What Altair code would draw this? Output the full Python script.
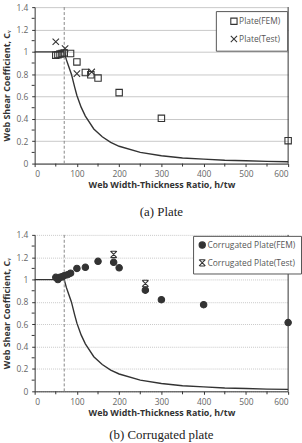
import altair as alt
import pandas as pd

# ---- data ----
curve_x = [0, 70, 75, 80, 87, 95, 100, 110, 120, 140, 160, 180, 200, 250, 300, 350, 400, 450, 500, 550, 600]
curve_y = [1.0, 1.0, 0.93, 0.875, 0.80, 0.68, 0.61, 0.505, 0.425, 0.31, 0.24, 0.19, 0.155, 0.10, 0.07, 0.05, 0.04, 0.03, 0.025, 0.02, 0.017]

plate_fem_x = [50, 55, 60, 65, 70, 85, 100, 120, 133, 150, 200, 300, 600]
plate_fem_y = [0.97, 0.975, 0.98, 0.985, 0.99, 0.985, 0.91, 0.815, 0.795, 0.765, 0.635, 0.405, 0.205]
plate_test_x = [50, 72, 100, 135]
plate_test_y = [1.09, 1.03, 0.805, 0.82]

corr_fem_x = [50, 55, 60, 65, 70, 78, 85, 100, 120, 150, 187, 200, 262, 300, 400, 600]
corr_fem_y = [1.02, 1.0, 1.02, 1.025, 1.035, 1.044, 1.057, 1.10, 1.11, 1.163, 1.154, 1.105, 0.905, 0.82, 0.775, 0.615]
corr_test_x = [187, 262]
corr_test_y = [1.225, 0.965]

limit_x = [70]
edge_x = [600]

x_major = [0, 100, 200, 300, 400, 500, 600]
x_minor = [50, 150, 250, 350, 450, 550]
y_major = [0, 0.2, 0.4, 0.6, 0.8, 1.0, 1.2, 1.4]
y_minor = [0.1, 0.3, 0.5, 0.7, 0.9, 1.1, 1.3]

labels_top = ["Plate(FEM)", "Plate(Test)"]
labels_bot = ["Corrugated Plate(FEM)", "Corrugated Plate(Test)"]

curve_df = pd.DataFrame({"x": curve_x, "y": curve_y})
top_df = pd.concat([
    pd.DataFrame({"x": plate_fem_x, "y": plate_fem_y, "s": labels_top[0]}),
    pd.DataFrame({"x": plate_test_x, "y": plate_test_y, "s": labels_top[1]}),
])
bot_df = pd.concat([
    pd.DataFrame({"x": corr_fem_x, "y": corr_fem_y, "s": labels_bot[0]}),
    pd.DataFrame({"x": corr_test_x, "y": corr_test_y, "s": labels_bot[1]}),
])
limit_df = pd.DataFrame({"x": limit_x})
edge_df = pd.DataFrame({"x": edge_x})
xminor_df = pd.DataFrame({"x": x_minor})
yminor_df = pd.DataFrame({"y": y_minor})

FONT = "Open Sans"
INK = "#333333"
W, H = 256, 158

X_PATH = "M-1,-1L1,1M1,-1L-1,1"
XBAR_PATH = "M-1,-1L1,1M1,-1L-1,1M-0.8,-1L0.8,-1M-0.8,1L0.8,1"


def panel(df, labels, shapes, fills, caption, cap_offset, dashed, legend_x, legend_y, legend_pad, sym_off):
    xs = alt.Scale(domain=[0, 600], nice=False)
    ys = alt.Scale(domain=[0, 1.4], nice=False)
    x_axis = alt.Axis(
        values=x_major, labelOverlap=False,
        grid=False, tickSize=3, tickColor=INK, domainColor=INK,
        labelColor="#666666", labelFont=FONT, labelFontSize=8.5, labelPadding=3,
        title="Web Width-Thickness  Ratio, h/tw", titleFont=FONT, titleFontSize=9,
        titleFontWeight="bold", titleColor=INK, titlePadding=3,
    )
    y_axis = alt.Axis(
        values=y_major, format="~g", labelOverlap=False,
        grid=True, gridColor="#c8c8c8", gridWidth=1,
        gridDash=[1, 1] if dashed else [],
        tickSize=3, tickColor=INK, domainColor=INK,
        labelColor="#666666", labelFont=FONT, labelFontSize=8.5, labelPadding=4,
        title="Web Shear Coefficient, C\u1d65", titleFont=FONT, titleFontSize=9,
        titleFontWeight="bold", titleColor=INK, titlePadding=4,
    )
    X = alt.X("x:Q", scale=xs, axis=x_axis)
    Y = alt.Y("y:Q", scale=ys, axis=y_axis)

    curve = alt.Chart(curve_df).mark_line(color=INK, strokeWidth=1.4).encode(x=X, y=Y)
    limit = alt.Chart(limit_df).mark_rule(color="#888888", strokeDash=[3, 2], strokeWidth=1).encode(x=X)
    edge = alt.Chart(edge_df).mark_rule(color=INK, strokeWidth=1).encode(x=X)
    xminor = alt.Chart(xminor_df).mark_rule(color=INK, strokeWidth=1).encode(
        x=X, y=alt.value(H), y2=alt.value(H + 3)
    )
    yminor = alt.Chart(yminor_df).mark_rule(color=INK, strokeWidth=1).encode(
        y=Y, x=alt.value(0), x2=alt.value(-3)
    )

    legend = alt.Legend(
        title=None, orient="none", legendX=legend_x, legendY=legend_y,
        strokeColor="#555555", fillColor="white", padding=legend_pad,
        labelFont=FONT, labelFontSize=8.5, labelColor="#555555",
        symbolSize=40, symbolStrokeWidth=1.1, rowPadding=6, labelOffset=1,
        symbolOffset=sym_off,
    )
    pts = alt.Chart(df).mark_point(size=42, strokeWidth=1.1, opacity=1, color=INK).encode(
        x=X, y=Y,
        shape=alt.Shape("s:N", scale=alt.Scale(domain=labels, range=shapes), legend=legend),
        fill=alt.Fill("s:N", scale=alt.Scale(domain=labels, range=fills), legend=legend),
    )
    return alt.layer(curve, limit, xminor, yminor, pts, edge).properties(
        width=W, height=H,
        title=alt.TitleParams(caption, orient="bottom", font="Liberation Serif", fontSize=13,
                              fontWeight="normal", color="#222222", offset=cap_offset),
    )


top = panel(top_df, labels_top, ["square", X_PATH], ["transparent", "transparent"],
            "(a)  Plate", 16, False, 183, 4, 6, 8)
bot = panel(bot_df, labels_bot, ["circle", XBAR_PATH], [INK, "transparent"],
            "(b)  Corrugated  plate", 12, True, 160, 1, 5, 0)

chart = alt.vconcat(top, bot, spacing=12).resolve_scale(
    x="independent", y="independent", shape="independent", fill="independent"
).resolve_legend(shape="independent", fill="independent").properties(
    padding={"left": 3, "top": 1, "right": 0, "bottom": 0},
    background="white",
).configure_view(stroke=None)

chart.save("out.html", embed_options={"renderer": "svg", "actions": False})
